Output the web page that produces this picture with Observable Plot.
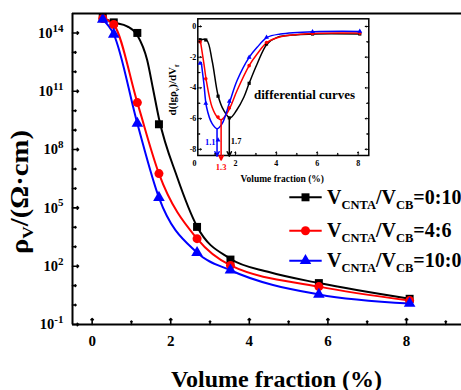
<!DOCTYPE html>
<html><head><meta charset="utf-8">
<script src="https://cdn.jsdelivr.net/npm/d3@7"></script>
<script src="https://cdn.jsdelivr.net/npm/@observablehq/plot@0.6"></script>
<style>
body{margin:0;background:#fff;}
#wrap{position:relative;width:461px;height:390px;overflow:hidden;background:#fff;}
#wrap svg{display:block;}
#inset{position:absolute;left:155px;top:8px;}
</style></head><body><div id="wrap"></div>
<script>
// ---------- main chart data ----------
const fractions = [0.27, 0.55, 1.15, 1.70, 2.67, 3.52, 5.77, 8.08];
const rho_0_10 = [6.5e14, 3.5e14, 1.0e14, 2.0e9, 1.05e4, 219, 13.5, 2.1];
const rho_4_6  = [5.5e14, 2.7e14, 2.6e10, 5.8e6, 2.6e3, 110, 8.9, 1.7];
const rho_10_0 = [4.9e14, 8.5e13, 2.2e9, 3.4e5, 500, 62, 3.5, 1.2];
// fitted curve of 0:10
const fitX_0_10   = [0.27, 0.55, 0.89, 1.15, 1.40, 1.55, 1.70, 2.16, 2.67, 3.52, 4.5, 5.77, 8.08];
const fitRho_0_10 = [6.0e14, 3.5e14, 2.2e14, 7.6e13, 4.0e12, 1.3e11, 4.0e9, 4.0e6, 1.1e4, 240, 50, 13.5, 2.1];

const yMajor = [1e-1, 1e2, 1e5, 1e8, 1e11, 1e14];
const yMinor = [1, 10, 1e3, 1e4, 1e6, 1e7, 1e9, 1e10, 1e12, 1e13];
const xMajor = [0, 2, 4, 6, 8];
const xMinor = [1, 3, 5, 7, 9];

const legendLabels = ["0:10", "4:6", "10:0"];

// ---------- inset data (differential curves) ----------
const dX_0_10 = [0.29, 0.59, 0.86, 1.16, 1.43, 1.73, 2.05, 2.41, 2.67, 3.06, 3.55, 4.04, 5.02, 5.83, 8.11];
const dY_0_10 = [-0.86, -0.88, -2.23, -4.54, -5.47, -5.95, -5.47, -4.61, -3.70, -2.44, -1.14, -0.71, -0.54, -0.49, -0.49];
const dX_4_6  = [0.29, 0.46, 0.59, 0.86, 1.14, 1.30, 1.52, 1.73, 2.08, 2.67, 3.06, 3.55, 4.2, 5.83, 8.11];
const dY_4_6  = [-0.97, -2.44, -3.63, -5.26, -5.95, -6.07, -5.79, -5.3, -4.17, -2.55, -1.79, -1.04, -0.67, -0.45, -0.43];
const dX_10_0 = [0.33, 0.46, 0.59, 0.86, 1.11, 1.35, 1.73, 2.08, 2.67, 3.06, 3.55, 4.2, 5.83, 8.11];
const dY_10_0 = [-2.34, -3.74, -5.26, -6.33, -6.66, -6.33, -4.87, -3.52, -2.01, -1.36, -0.71, -0.49, -0.34, -0.32];
// markers on the differential curves
const dPts_0_10 = [-0.86, -0.88, -4.54, -5.95, -3.70, -1.14, -0.49, -0.49];
const dPts_4_6  = [-1.0, -3.4, -5.9, -5.3, -2.55, -1.04, -0.45, -0.43];
const dPts_10_0 = [-2.4, -5.0, -7.4, -4.87, -2.01, -0.71, -0.34, -0.32];
// minima and their arrows
const peakX    = [1.7, 1.3, 1.1];
const peakMin  = [-5.95, -6.07, -6.66];
const peakEnd  = [-8.45, -8.7, -8.45];
const peakText = ["1.7", "1.3", "1.1"];

const insetYTicks = [0, -2, -4, -6, -8];
const insetYMinor = [-1, -3, -5, -7];
const insetXTicks = [0, 2, 4, 6, 8];
const insetXMinor = [1, 3, 5, 7];

// ---------- styles ----------
const COLORS = ["#000000", "#ff0000", "#0000ff"];
const SYMBOLS = ["square", "circle", "triangle"];
const RADII = [4.5, 4.5, 4.3];
const FONT = "'Liberation Serif','Times New Roman',serif";

const mainSeries = [rho_0_10, rho_4_6, rho_10_0];
const pts = (xs, ys) => xs.map((x, i) => ({x, y: ys[i]}));

const mainMarks = [];
mainMarks.push(Plot.line(pts(fitX_0_10, fitRho_0_10), {x: "x", y: "y", stroke: COLORS[0], strokeWidth: 2, curve: "monotone-x"}));
mainMarks.push(Plot.line(pts(fractions, rho_4_6), {x: "x", y: "y", stroke: COLORS[1], strokeWidth: 2, curve: "monotone-x"}));
mainMarks.push(Plot.line(pts(fractions, rho_10_0), {x: "x", y: "y", stroke: COLORS[2], strokeWidth: 2, curve: "monotone-x"}));
mainSeries.forEach((vals, k) => {
  mainMarks.push(Plot.dot(pts(fractions, vals), {x: "x", y: "y", symbol: SYMBOLS[k], r: RADII[k], fill: COLORS[k], stroke: "none"}));
});
mainMarks.push(
  Plot.ruleX([-0.5], {strokeWidth: 2}),
  Plot.ruleY([0.1, 1e15], {strokeWidth: 2}),
  Plot.vector(yMajor, {y: d => d, frameAnchor: "left", rotate: 90, length: 6, anchor: "start", strokeWidth: 1.6}),
  Plot.vector(yMinor, {y: d => d, frameAnchor: "left", rotate: 90, length: 3.5, anchor: "start", strokeWidth: 1.6}),
  Plot.vector(xMajor, {x: d => d, frameAnchor: "bottom", rotate: 0, length: 6, anchor: "start", strokeWidth: 1.6}),
  Plot.vector(xMinor, {x: d => d, frameAnchor: "bottom", rotate: 0, length: 3.5, anchor: "start", strokeWidth: 1.6}),
  Plot.axisX({ticks: xMajor, label: null, tickSize: 0, tickPadding: 11, fontSize: 15, fontWeight: "bold", tickFormat: d => String(d)}),
  Plot.axisY({ticks: yMajor, label: null, tickSize: 0, tickPadding: 9, fontSize: 14.5, fontWeight: "bold", tickFormat: d => String(Math.round(Math.log10(d)))})
);

const main = Plot.plot({
  width: 461, height: 390,
  marginLeft: 72, marginRight: 0, marginTop: 13, marginBottom: 66,
  style: {fontFamily: FONT, background: "none", color: "#000"},
  x: {domain: [-0.5, 9.4], label: null},
  y: {type: "log", domain: [0.1, 1e15], label: null},
  marks: mainMarks
});
document.getElementById("wrap").appendChild(main);

// superscript exponents on y tick labels
d3.select(main).selectAll('g[aria-label="y-axis tick label"] text').each(function () {
  const e = this.textContent;
  const t = d3.select(this);
  t.text("");
  t.append("tspan").text("10");
  t.append("tspan").attr("dy", "-0.55em").attr("font-size", "11px").text(e);
});

const svg = d3.select(main);
// x label
svg.append("text").attr("x", 276.5).attr("y", 386.5).attr("text-anchor", "middle")
  .attr("font-family", FONT).attr("font-weight", "bold").attr("font-size", 24).attr("fill", "#000")
  .text("Volume fraction (%)");
// y label
const yl = svg.append("text").attr("transform", "translate(28,192) rotate(-90)").attr("text-anchor", "middle")
  .attr("font-family", FONT).attr("font-weight", "bold").attr("font-size", 25).attr("fill", "#000")
  .attr("textLength", 124).attr("lengthAdjust", "spacingAndGlyphs");
yl.append("tspan").text("ρ");
yl.append("tspan").attr("font-size", 15).attr("dy", 5).text("V");
yl.append("tspan").attr("dy", -5).text("/(Ω·cm)");

// legend
const legY = [197.3, 230.7, 260.7];
legendLabels.forEach((lab, k) => {
  const g = svg.append("g");
  g.append("line").attr("x1", 289.3).attr("x2", 321.7).attr("y1", legY[k]).attr("y2", legY[k])
    .attr("stroke", COLORS[k]).attr("stroke-width", 2);
  const symType = [d3.symbolSquare, d3.symbolCircle, d3.symbolTriangle][k];
  g.append("path").attr("d", d3.symbol(symType, Math.PI * RADII[k] * RADII[k])())
    .attr("transform", `translate(305.5,${legY[k]})`).attr("fill", COLORS[k]);
  const t = g.append("text").attr("x", 327).attr("y", legY[k] + 6.5).attr("text-anchor", "start")
    .attr("font-family", FONT).attr("font-weight", "bold").attr("font-size", 20).attr("fill", "#000");
  t.append("tspan").text("V");
  t.append("tspan").attr("font-size", 12.5).attr("dy", 5).text("CNTA");
  t.append("tspan").attr("dy", -5).text("/V");
  t.append("tspan").attr("font-size", 12.5).attr("dy", 5).text("CB");
  t.append("tspan").attr("dy", -5).text("=" + lab);
});

// ---------- inset ----------
const insetMarks = [Plot.frame({strokeWidth: 1.5})];
[[dX_0_10, dY_0_10], [dX_4_6, dY_4_6], [dX_10_0, dY_10_0]].forEach(([xs, ys], k) => {
  insetMarks.push(Plot.line(pts(xs, ys), {x: "x", y: "y", stroke: COLORS[k], strokeWidth: 1.5, curve: "catmull-rom"}));
});
[dPts_0_10, dPts_4_6, dPts_10_0].forEach((ys, k) => {
  insetMarks.push(Plot.dot(pts(fractions, ys), {x: "x", y: "y", symbol: SYMBOLS[k], r: 1.8, fill: COLORS[k], stroke: "none"}));
});
peakX.forEach((px, k) => {
  insetMarks.push(Plot.arrow([{x: px, y1: peakMin[k], y2: peakEnd[k]}], {x1: "x", x2: "x", y1: "y1", y2: "y2", stroke: COLORS[k], strokeWidth: 1.5, headLength: 5, headAngle: 50}));
});
insetMarks.push(
  Plot.text([{x: peakX[0], y: -7.5, t: peakText[0]}], {x: "x", y: "y", text: "t", fill: COLORS[0], textAnchor: "start", dx: 1.5, fontSize: 8.5, fontWeight: "bold"}),
  Plot.text([{x: peakX[1], y: -8.4, t: peakText[1]}], {x: "x", y: "y", text: "t", fill: COLORS[1], textAnchor: "middle", dy: 12, fontSize: 8.5, fontWeight: "bold"}),
  Plot.text([{x: peakX[2], y: -7.55, t: peakText[2]}], {x: "x", y: "y", text: "t", fill: COLORS[2], textAnchor: "end", dx: -1.5, fontSize: 8.5, fontWeight: "bold"}),
  Plot.text(["differential curves"], {x: 5.38, y: -4.45, text: d => d, fontSize: 13, fontWeight: "bold"}),
  Plot.text(["Volume fraction (%)"], {frameAnchor: "bottom", dy: 27, dx: -1, text: d => d, fontSize: 9.5, fontWeight: "bold"}),
  Plot.vector(insetYTicks, {y: d => d, frameAnchor: "left", rotate: 90, length: 3.5, anchor: "start", strokeWidth: 1}),
  Plot.vector(insetYMinor, {y: d => d, frameAnchor: "left", rotate: 90, length: 2, anchor: "start", strokeWidth: 1}),
  Plot.vector(insetYTicks, {y: d => d, frameAnchor: "right", rotate: -90, length: 3.5, anchor: "start", strokeWidth: 1}),
  Plot.vector(insetYMinor, {y: d => d, frameAnchor: "right", rotate: -90, length: 2, anchor: "start", strokeWidth: 1}),
  Plot.vector(insetXTicks.filter(d => d > 0.16), {x: d => d, frameAnchor: "bottom", rotate: 0, length: 3.5, anchor: "start", strokeWidth: 1}),
  Plot.vector(insetXMinor, {x: d => d, frameAnchor: "bottom", rotate: 0, length: 2, anchor: "start", strokeWidth: 1}),
  Plot.axisX({ticks: insetXTicks, label: null, tickSize: 0, tickPadding: 5, fontSize: 8, fontWeight: "bold", tickFormat: d => String(d)}),
  Plot.axisY({ticks: insetYTicks, label: null, tickSize: 0, tickPadding: 1.5, fontSize: 8, fontWeight: "bold", tickFormat: d => String(d)})
);
const inset = Plot.plot({
  width: 216.3, height: 187,
  marginLeft: 42.3, marginRight: 3, marginTop: 10.3, marginBottom: 40,
  style: {fontFamily: FONT, background: "none", color: "#000", overflow: "visible"},
  x: {domain: [0.16, 8.52], label: null},
  y: {domain: [-8.4, 0.5], label: null},
  marks: insetMarks
});
inset.id = "inset";
document.getElementById("wrap").appendChild(inset);
const yl2 = d3.select(inset).append("text").attr("transform", "translate(21,82) rotate(-90)").attr("text-anchor", "middle")
  .attr("font-family", FONT).attr("font-weight", "bold").attr("font-size", 11).attr("fill", "#000");
yl2.append("tspan").text("d(lgρ");
yl2.append("tspan").attr("font-size", 7).attr("dy", 2.5).text("v");
yl2.append("tspan").attr("dy", -2.5).text(")/dV");
yl2.append("tspan").attr("font-size", 7).attr("dy", 2.5).text("f");
</script></body></html>
